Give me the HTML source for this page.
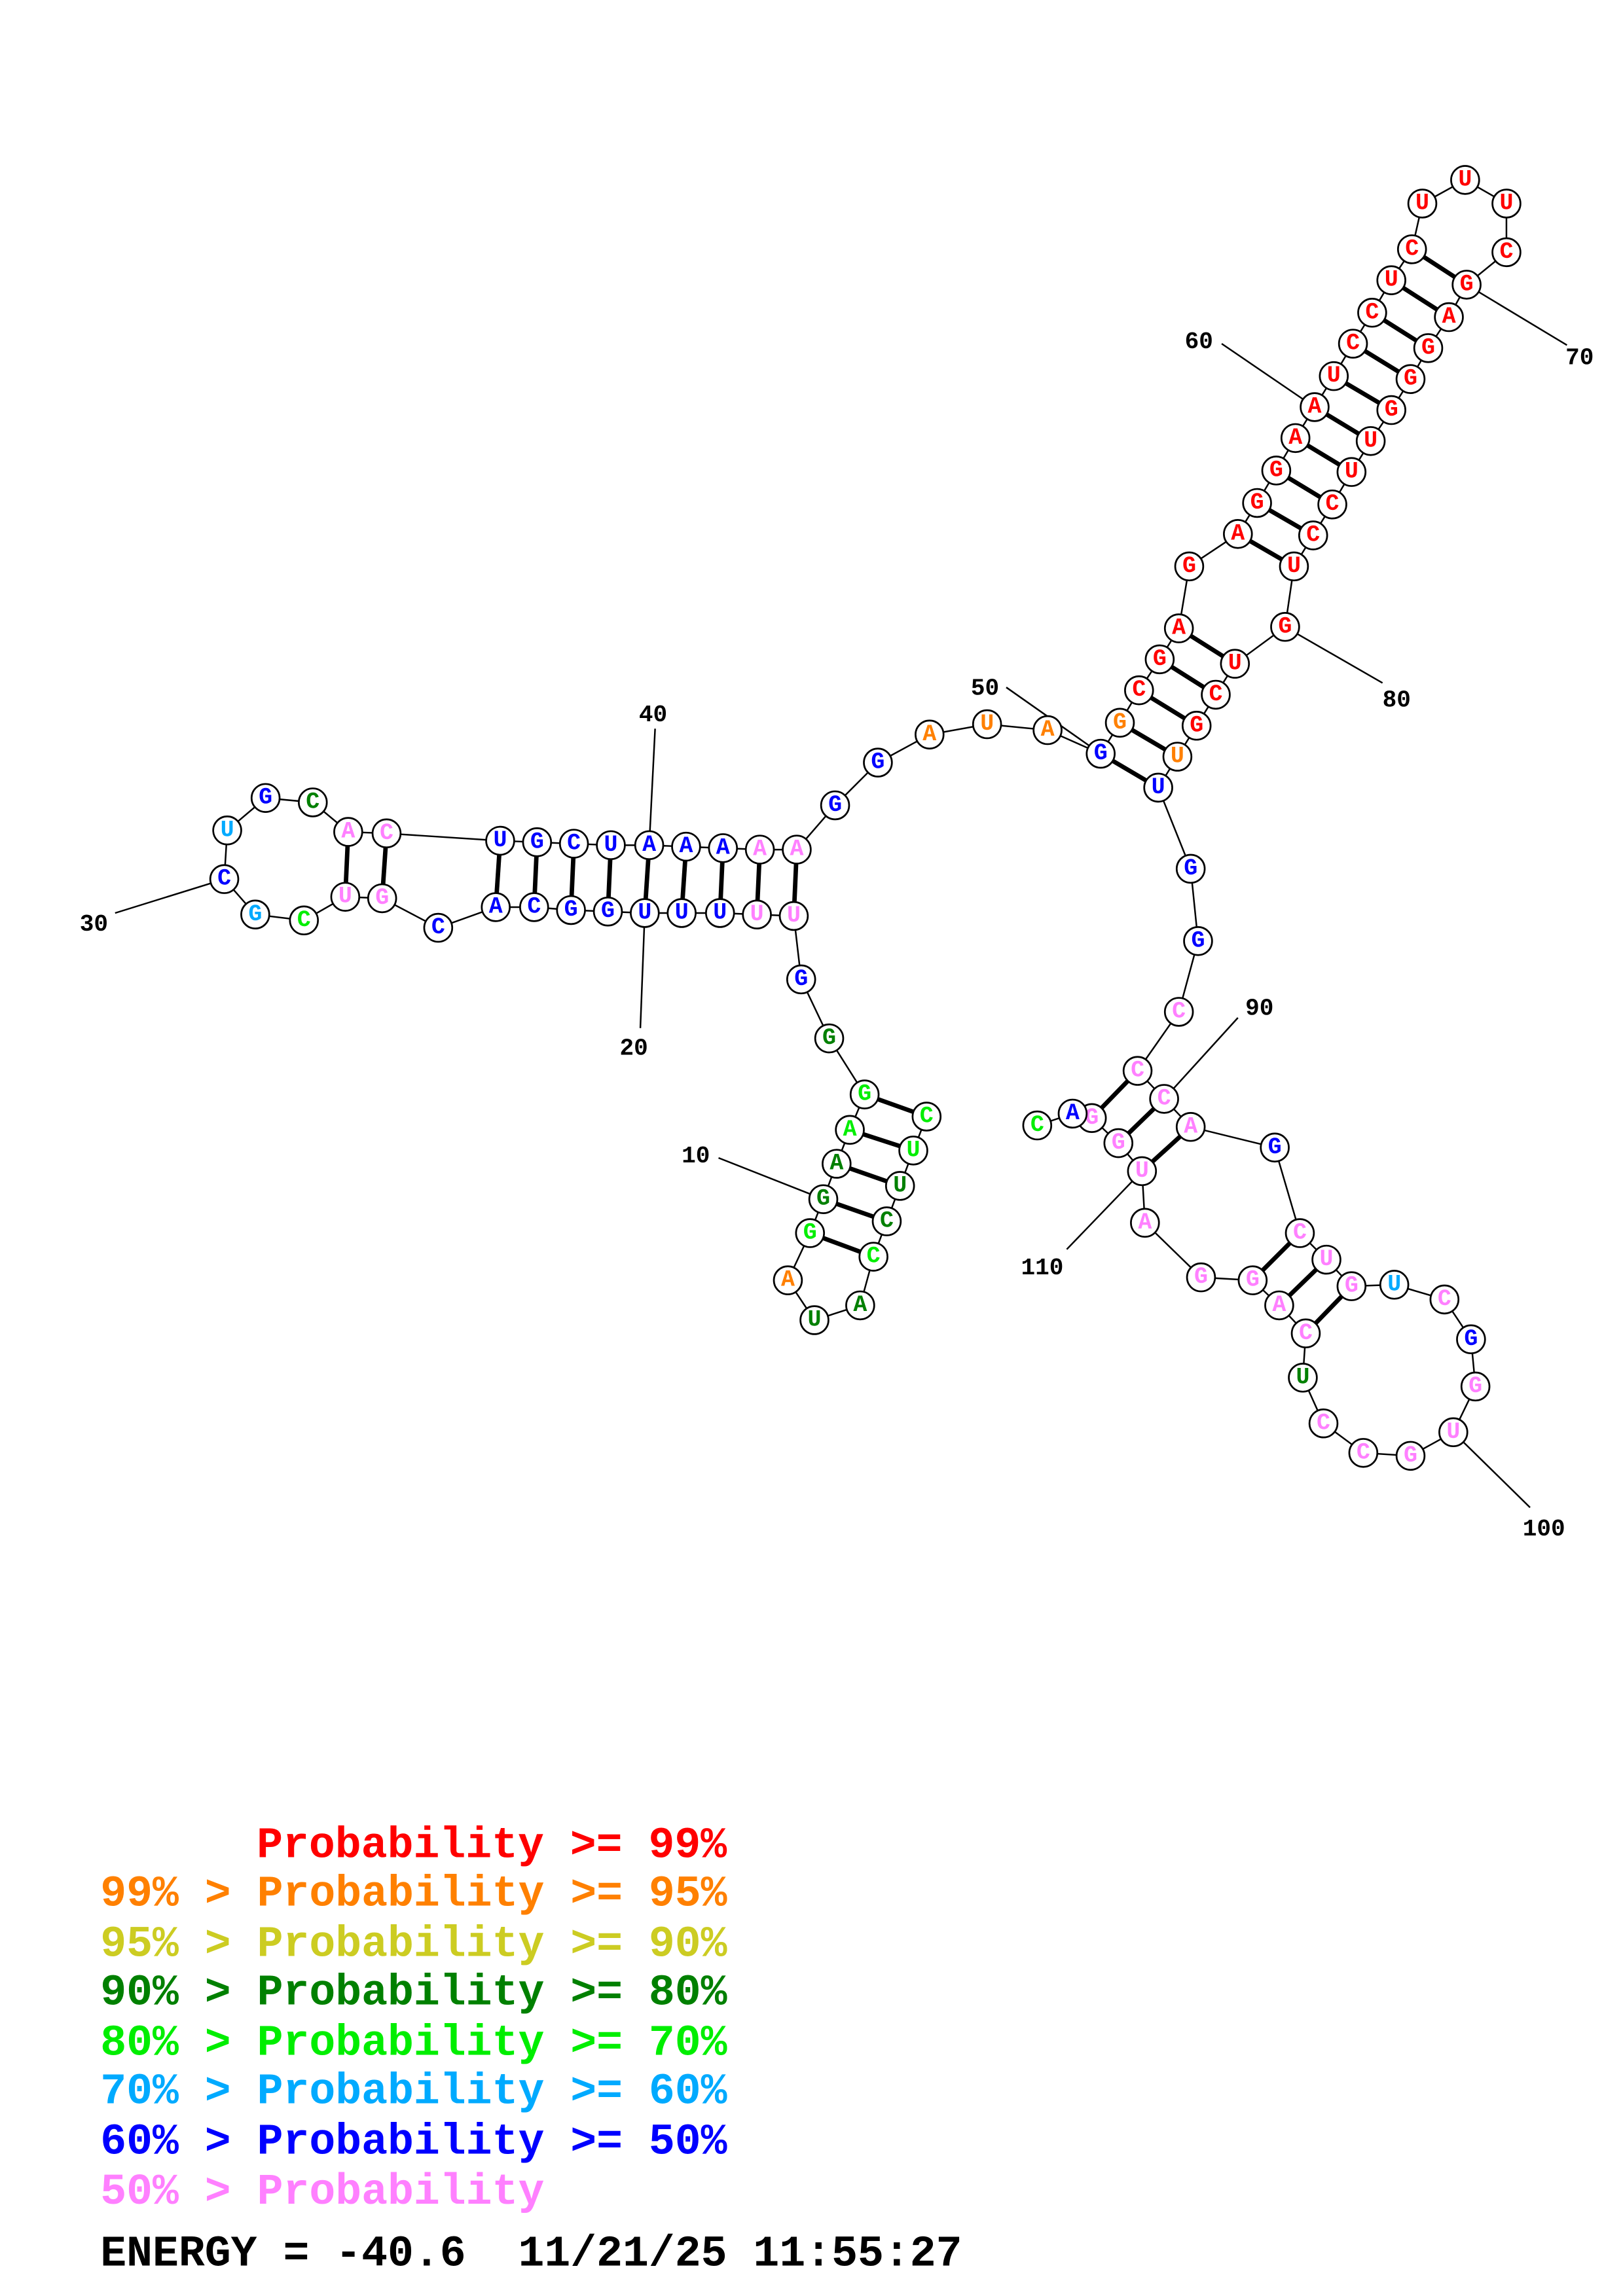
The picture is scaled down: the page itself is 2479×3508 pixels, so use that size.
<!DOCTYPE html>
<html><head><meta charset="utf-8"><style>
html,body{margin:0;padding:0;background:#fff}
svg{display:block}
circle{fill:#fff;stroke:#000;stroke-width:1.2}
.n{font-family:"Liberation Mono",monospace;font-weight:bold;font-size:15.5px;text-anchor:middle;dominant-baseline:central}
.l{font-family:"Liberation Mono",monospace;font-weight:bold;font-size:16px;fill:#000}
.g{font-family:"Liberation Mono",monospace;font-weight:bold;font-size:29.5px}
.R{fill:#ff0000}.O{fill:#ff8000}.Y{fill:#cccc22}.D{fill:#008000}.B{fill:#00ee00}.C{fill:#00aaff}.U{fill:#0000ff}.P{fill:#ff80ff}
</style></head><body>
<svg width="2479" height="3508" viewBox="0 0 1100 1556.6" xmlns="http://www.w3.org/2000/svg">
<g stroke="#000" stroke-width="1.1" fill="none">
<polyline points="628,757 619,780 610,804 601,828 592,852 583,885 552,895 534,868 549,836 558,813 567,789 576,766 586,742 562,704 543,664 538,621 513,620 488,619 462,619 437,619 412,618 387,617 362,615 336,615 297,629 259,609 234,608 206,624 173,620 152,596 154,563 180,541 212,544 236,564 262,565 339,570 364,571 389,572 414,573 440,573 465,574 490,575 515,576 540,576 566,546 595,517 630,498 669,491 710,495 746,511 759,490 772,468 786,447 799,426 806,384 839,362 852,341 865,319 878,297 891,276 904,255 917,233 930,212 943,190 957,169 964,138 993,122 1021,138 1021,171 994,193 982,215 968,236 956,257 943,278 929,299 916,320 903,342 890,363 877,384 871,425 837,450 824,471 811,492 798,513 785,534 807,589 812,638 799,686 771,726 789,745 807,764 864,778 881,836 899,854 916,872 945,871 979,881 997,908 1000,940 985,971 956,987 924,985 897,965 883,934 885,904 867,885 849,868 814,866 776,829 774,794 758,775 740,758 727,755 703,763"/>
<line x1="487" y1="785" x2="558" y2="813"/>
<line x1="434" y1="697" x2="437" y2="619"/>
<line x1="78" y1="619" x2="152" y2="596"/>
<line x1="444" y1="494" x2="440" y2="573"/>
<line x1="682" y1="466" x2="746" y2="511"/>
<line x1="828" y1="233" x2="891" y2="276"/>
<line x1="1062" y1="234" x2="994" y2="193"/>
<line x1="937" y1="463" x2="871" y2="425"/>
<line x1="839" y1="690" x2="789" y2="745"/>
<line x1="1037" y1="1022" x2="985" y2="971"/>
<line x1="723" y1="847" x2="774" y2="794"/>
</g>
<g stroke="#000" stroke-width="3">
<line x1="628" y1="757" x2="586" y2="742"/><line x1="619" y1="780" x2="576" y2="766"/><line x1="610" y1="804" x2="567" y2="789"/><line x1="601" y1="828" x2="558" y2="813"/><line x1="592" y1="852" x2="549" y2="836"/>
<line x1="538" y1="621" x2="540" y2="576"/><line x1="513" y1="620" x2="515" y2="576"/><line x1="488" y1="619" x2="490" y2="575"/><line x1="462" y1="619" x2="465" y2="574"/><line x1="437" y1="619" x2="440" y2="573"/><line x1="412" y1="618" x2="414" y2="573"/><line x1="387" y1="617" x2="389" y2="572"/><line x1="362" y1="615" x2="364" y2="571"/><line x1="336" y1="615" x2="339" y2="570"/>
<line x1="259" y1="609" x2="262" y2="565"/><line x1="234" y1="608" x2="236" y2="564"/>
<line x1="746" y1="511" x2="785" y2="534"/><line x1="759" y1="490" x2="798" y2="513"/><line x1="772" y1="468" x2="811" y2="492"/><line x1="786" y1="447" x2="824" y2="471"/><line x1="799" y1="426" x2="837" y2="450"/>
<line x1="839" y1="362" x2="877" y2="384"/><line x1="852" y1="341" x2="890" y2="363"/><line x1="865" y1="319" x2="903" y2="342"/><line x1="878" y1="297" x2="916" y2="320"/><line x1="891" y1="276" x2="929" y2="299"/><line x1="904" y1="255" x2="943" y2="278"/><line x1="917" y1="233" x2="956" y2="257"/><line x1="930" y1="212" x2="968" y2="236"/><line x1="943" y1="190" x2="982" y2="215"/><line x1="957" y1="169" x2="994" y2="193"/>
<line x1="771" y1="726" x2="740" y2="758"/><line x1="789" y1="745" x2="758" y2="775"/><line x1="807" y1="764" x2="774" y2="794"/>
<line x1="881" y1="836" x2="849" y2="868"/><line x1="899" y1="854" x2="867" y2="885"/><line x1="916" y1="872" x2="885" y2="904"/>
</g>
<g>
<circle cx="628" cy="757" r="9.5"/><text x="628" y="757" class="n B">C</text>
<circle cx="619" cy="780" r="9.5"/><text x="619" y="780" class="n B">U</text>
<circle cx="610" cy="804" r="9.5"/><text x="610" y="804" class="n D">U</text>
<circle cx="601" cy="828" r="9.5"/><text x="601" y="828" class="n D">C</text>
<circle cx="592" cy="852" r="9.5"/><text x="592" y="852" class="n B">C</text>
<circle cx="583" cy="885" r="9.5"/><text x="583" y="885" class="n D">A</text>
<circle cx="552" cy="895" r="9.5"/><text x="552" y="895" class="n D">U</text>
<circle cx="534" cy="868" r="9.5"/><text x="534" y="868" class="n O">A</text>
<circle cx="549" cy="836" r="9.5"/><text x="549" y="836" class="n B">G</text>
<circle cx="558" cy="813" r="9.5"/><text x="558" y="813" class="n D">G</text>
<circle cx="567" cy="789" r="9.5"/><text x="567" y="789" class="n D">A</text>
<circle cx="576" cy="766" r="9.5"/><text x="576" y="766" class="n B">A</text>
<circle cx="586" cy="742" r="9.5"/><text x="586" y="742" class="n B">G</text>
<circle cx="562" cy="704" r="9.5"/><text x="562" y="704" class="n D">G</text>
<circle cx="543" cy="664" r="9.5"/><text x="543" y="664" class="n U">G</text>
<circle cx="538" cy="621" r="9.5"/><text x="538" y="621" class="n P">U</text>
<circle cx="513" cy="620" r="9.5"/><text x="513" y="620" class="n P">U</text>
<circle cx="488" cy="619" r="9.5"/><text x="488" y="619" class="n U">U</text>
<circle cx="462" cy="619" r="9.5"/><text x="462" y="619" class="n U">U</text>
<circle cx="437" cy="619" r="9.5"/><text x="437" y="619" class="n U">U</text>
<circle cx="412" cy="618" r="9.5"/><text x="412" y="618" class="n U">G</text>
<circle cx="387" cy="617" r="9.5"/><text x="387" y="617" class="n U">G</text>
<circle cx="362" cy="615" r="9.5"/><text x="362" y="615" class="n U">C</text>
<circle cx="336" cy="615" r="9.5"/><text x="336" y="615" class="n U">A</text>
<circle cx="297" cy="629" r="9.5"/><text x="297" y="629" class="n U">C</text>
<circle cx="259" cy="609" r="9.5"/><text x="259" y="609" class="n P">G</text>
<circle cx="234" cy="608" r="9.5"/><text x="234" y="608" class="n P">U</text>
<circle cx="206" cy="624" r="9.5"/><text x="206" y="624" class="n B">C</text>
<circle cx="173" cy="620" r="9.5"/><text x="173" y="620" class="n C">G</text>
<circle cx="152" cy="596" r="9.5"/><text x="152" y="596" class="n U">C</text>
<circle cx="154" cy="563" r="9.5"/><text x="154" y="563" class="n C">U</text>
<circle cx="180" cy="541" r="9.5"/><text x="180" y="541" class="n U">G</text>
<circle cx="212" cy="544" r="9.5"/><text x="212" y="544" class="n D">C</text>
<circle cx="236" cy="564" r="9.5"/><text x="236" y="564" class="n P">A</text>
<circle cx="262" cy="565" r="9.5"/><text x="262" y="565" class="n P">C</text>
<circle cx="339" cy="570" r="9.5"/><text x="339" y="570" class="n U">U</text>
<circle cx="364" cy="571" r="9.5"/><text x="364" y="571" class="n U">G</text>
<circle cx="389" cy="572" r="9.5"/><text x="389" y="572" class="n U">C</text>
<circle cx="414" cy="573" r="9.5"/><text x="414" y="573" class="n U">U</text>
<circle cx="440" cy="573" r="9.5"/><text x="440" y="573" class="n U">A</text>
<circle cx="465" cy="574" r="9.5"/><text x="465" y="574" class="n U">A</text>
<circle cx="490" cy="575" r="9.5"/><text x="490" y="575" class="n U">A</text>
<circle cx="515" cy="576" r="9.5"/><text x="515" y="576" class="n P">A</text>
<circle cx="540" cy="576" r="9.5"/><text x="540" y="576" class="n P">A</text>
<circle cx="566" cy="546" r="9.5"/><text x="566" y="546" class="n U">G</text>
<circle cx="595" cy="517" r="9.5"/><text x="595" y="517" class="n U">G</text>
<circle cx="630" cy="498" r="9.5"/><text x="630" y="498" class="n O">A</text>
<circle cx="669" cy="491" r="9.5"/><text x="669" y="491" class="n O">U</text>
<circle cx="710" cy="495" r="9.5"/><text x="710" y="495" class="n O">A</text>
<circle cx="746" cy="511" r="9.5"/><text x="746" y="511" class="n U">G</text>
<circle cx="759" cy="490" r="9.5"/><text x="759" y="490" class="n O">G</text>
<circle cx="772" cy="468" r="9.5"/><text x="772" y="468" class="n R">C</text>
<circle cx="786" cy="447" r="9.5"/><text x="786" y="447" class="n R">G</text>
<circle cx="799" cy="426" r="9.5"/><text x="799" y="426" class="n R">A</text>
<circle cx="806" cy="384" r="9.5"/><text x="806" y="384" class="n R">G</text>
<circle cx="839" cy="362" r="9.5"/><text x="839" y="362" class="n R">A</text>
<circle cx="852" cy="341" r="9.5"/><text x="852" y="341" class="n R">G</text>
<circle cx="865" cy="319" r="9.5"/><text x="865" y="319" class="n R">G</text>
<circle cx="878" cy="297" r="9.5"/><text x="878" y="297" class="n R">A</text>
<circle cx="891" cy="276" r="9.5"/><text x="891" y="276" class="n R">A</text>
<circle cx="904" cy="255" r="9.5"/><text x="904" y="255" class="n R">U</text>
<circle cx="917" cy="233" r="9.5"/><text x="917" y="233" class="n R">C</text>
<circle cx="930" cy="212" r="9.5"/><text x="930" y="212" class="n R">C</text>
<circle cx="943" cy="190" r="9.5"/><text x="943" y="190" class="n R">U</text>
<circle cx="957" cy="169" r="9.5"/><text x="957" y="169" class="n R">C</text>
<circle cx="964" cy="138" r="9.5"/><text x="964" y="138" class="n R">U</text>
<circle cx="993" cy="122" r="9.5"/><text x="993" y="122" class="n R">U</text>
<circle cx="1021" cy="138" r="9.5"/><text x="1021" y="138" class="n R">U</text>
<circle cx="1021" cy="171" r="9.5"/><text x="1021" y="171" class="n R">C</text>
<circle cx="994" cy="193" r="9.5"/><text x="994" y="193" class="n R">G</text>
<circle cx="982" cy="215" r="9.5"/><text x="982" y="215" class="n R">A</text>
<circle cx="968" cy="236" r="9.5"/><text x="968" y="236" class="n R">G</text>
<circle cx="956" cy="257" r="9.5"/><text x="956" y="257" class="n R">G</text>
<circle cx="943" cy="278" r="9.5"/><text x="943" y="278" class="n R">G</text>
<circle cx="929" cy="299" r="9.5"/><text x="929" y="299" class="n R">U</text>
<circle cx="916" cy="320" r="9.5"/><text x="916" y="320" class="n R">U</text>
<circle cx="903" cy="342" r="9.5"/><text x="903" y="342" class="n R">C</text>
<circle cx="890" cy="363" r="9.5"/><text x="890" y="363" class="n R">C</text>
<circle cx="877" cy="384" r="9.5"/><text x="877" y="384" class="n R">U</text>
<circle cx="871" cy="425" r="9.5"/><text x="871" y="425" class="n R">G</text>
<circle cx="837" cy="450" r="9.5"/><text x="837" y="450" class="n R">U</text>
<circle cx="824" cy="471" r="9.5"/><text x="824" y="471" class="n R">C</text>
<circle cx="811" cy="492" r="9.5"/><text x="811" y="492" class="n R">G</text>
<circle cx="798" cy="513" r="9.5"/><text x="798" y="513" class="n O">U</text>
<circle cx="785" cy="534" r="9.5"/><text x="785" y="534" class="n U">U</text>
<circle cx="807" cy="589" r="9.5"/><text x="807" y="589" class="n U">G</text>
<circle cx="812" cy="638" r="9.5"/><text x="812" y="638" class="n U">G</text>
<circle cx="799" cy="686" r="9.5"/><text x="799" y="686" class="n P">C</text>
<circle cx="771" cy="726" r="9.5"/><text x="771" y="726" class="n P">C</text>
<circle cx="789" cy="745" r="9.5"/><text x="789" y="745" class="n P">C</text>
<circle cx="807" cy="764" r="9.5"/><text x="807" y="764" class="n P">A</text>
<circle cx="864" cy="778" r="9.5"/><text x="864" y="778" class="n U">G</text>
<circle cx="881" cy="836" r="9.5"/><text x="881" y="836" class="n P">C</text>
<circle cx="899" cy="854" r="9.5"/><text x="899" y="854" class="n P">U</text>
<circle cx="916" cy="872" r="9.5"/><text x="916" y="872" class="n P">G</text>
<circle cx="945" cy="871" r="9.5"/><text x="945" y="871" class="n C">U</text>
<circle cx="979" cy="881" r="9.5"/><text x="979" y="881" class="n P">C</text>
<circle cx="997" cy="908" r="9.5"/><text x="997" y="908" class="n U">G</text>
<circle cx="1000" cy="940" r="9.5"/><text x="1000" y="940" class="n P">G</text>
<circle cx="985" cy="971" r="9.5"/><text x="985" y="971" class="n P">U</text>
<circle cx="956" cy="987" r="9.5"/><text x="956" y="987" class="n P">G</text>
<circle cx="924" cy="985" r="9.5"/><text x="924" y="985" class="n P">C</text>
<circle cx="897" cy="965" r="9.5"/><text x="897" y="965" class="n P">C</text>
<circle cx="883" cy="934" r="9.5"/><text x="883" y="934" class="n D">U</text>
<circle cx="885" cy="904" r="9.5"/><text x="885" y="904" class="n P">C</text>
<circle cx="867" cy="885" r="9.5"/><text x="867" y="885" class="n P">A</text>
<circle cx="849" cy="868" r="9.5"/><text x="849" y="868" class="n P">G</text>
<circle cx="814" cy="866" r="9.5"/><text x="814" y="866" class="n P">G</text>
<circle cx="776" cy="829" r="9.5"/><text x="776" y="829" class="n P">A</text>
<circle cx="774" cy="794" r="9.5"/><text x="774" y="794" class="n P">U</text>
<circle cx="758" cy="775" r="9.5"/><text x="758" y="775" class="n P">G</text>
<circle cx="740" cy="758" r="9.5"/><text x="740" y="758" class="n P">G</text>
<circle cx="727" cy="755" r="9.5"/><text x="727" y="755" class="n U">A</text>
<circle cx="703" cy="763" r="9.5"/><text x="703" y="763" class="n B">C</text>
</g>
<g class="l">
<text x="462" y="788">10</text>
<text x="420" y="715">20</text>
<text x="54" y="631">30</text>
<text x="433" y="489">40</text>
<text x="658" y="471">50</text>
<text x="803" y="236">60</text>
<text x="1061" y="247">70</text>
<text x="937" y="479">80</text>
<text x="844" y="688">90</text>
<text x="1032" y="1041">100</text>
<text x="692" y="864">110</text>
</g>
<g class="g">
<text x="174" y="1259" class="R">Probability &gt;= 99%</text>
<text x="68" y="1292" class="O">99% &gt; Probability &gt;= 95%</text>
<text x="68" y="1326" class="Y">95% &gt; Probability &gt;= 90%</text>
<text x="68" y="1359" class="D">90% &gt; Probability &gt;= 80%</text>
<text x="68" y="1393" class="B">80% &gt; Probability &gt;= 70%</text>
<text x="68" y="1426" class="C">70% &gt; Probability &gt;= 60%</text>
<text x="68" y="1460" class="U">60% &gt; Probability &gt;= 50%</text>
<text x="68" y="1494" class="P">50% &gt; Probability</text>
<text x="68" y="1536" fill="#000" xml:space="preserve" style="white-space:pre">ENERGY = -40.6  11/21/25 11:55:27</text>
</g>
</svg>
</body></html>
